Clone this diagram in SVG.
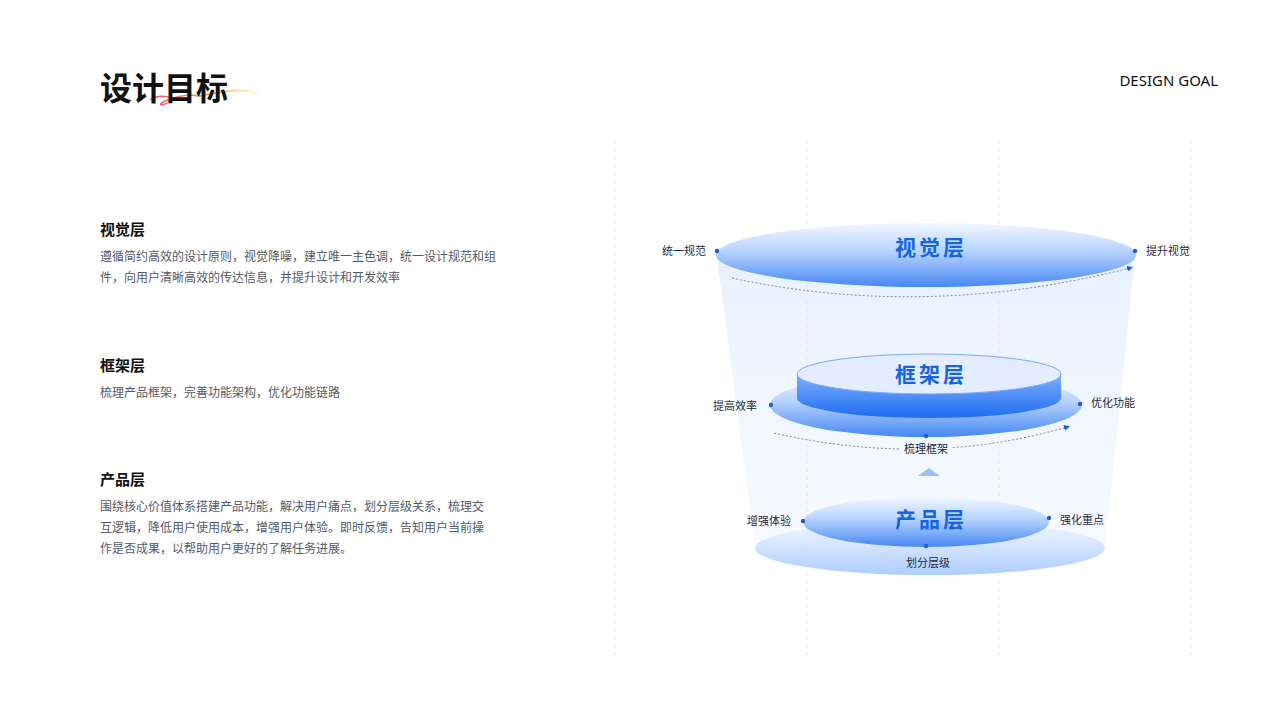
<svg xmlns="http://www.w3.org/2000/svg" width="1280" height="720" viewBox="0 0 1280 720">
<style>
.h{font-family:"Noto Sans CJK SC","Noto Sans",sans-serif;font-weight:700;fill:#111}
.p{font-family:"Noto Sans CJK SC","Noto Sans",sans-serif;font-size:12px;fill:#555a66}
.l{font-family:"Noto Sans CJK SC","Noto Sans",sans-serif;font-size:11px;fill:#1f2a3d}
.t{font-family:"Noto Sans CJK SC","Noto Sans",sans-serif;font-size:21px;font-weight:700;fill:#1565e0;letter-spacing:3px}
.dot{fill:#1a5fd8}
.vl{stroke:#e4e7ec;stroke-dasharray:4 4;stroke-width:1}
.dash{fill:none;stroke:#7d8596;stroke-width:1;stroke-dasharray:2 2}
</style>
<defs>
<linearGradient id="gTop" x1="0" y1="0" x2="0" y2="1"><stop offset="0" stop-color="#f2f7ff"/><stop offset="0.45" stop-color="#b5d2ff"/><stop offset="1" stop-color="#4688f3"/></linearGradient>
<linearGradient id="gFun" x1="0" y1="0" x2="0" y2="1"><stop offset="0" stop-color="#dbe9ff" stop-opacity="0.9"/><stop offset="1" stop-color="#eef5ff" stop-opacity="0.6"/></linearGradient>
<linearGradient id="gCyl" x1="0" y1="0" x2="0" y2="1"><stop offset="0" stop-color="#7fb0ff"/><stop offset="1" stop-color="#1e6cf0"/></linearGradient>
<linearGradient id="gBase" x1="0" y1="0" x2="0" y2="1"><stop offset="0" stop-color="#f3f8ff"/><stop offset="1" stop-color="#9cc2ff"/></linearGradient>
<linearGradient id="gSw" x1="0" y1="0" x2="1" y2="0"><stop offset="0" stop-color="#f0507a"/><stop offset="0.6" stop-color="#f7a23a"/><stop offset="1" stop-color="#fbd34a" stop-opacity="0.3"/></linearGradient>
<marker id="ar" viewBox="0 0 6 6" refX="3" refY="3" markerWidth="6" markerHeight="6" orient="auto"><path d="M0,0L6,3L0,6z" fill="#1a5fd8"/></marker>
</defs>
<rect width="1280" height="720" fill="#fff"/>
<g id="header">
<path d="M150,100 C160,92 180,98 165,104 C150,108 175,92 200,96 C230,90 245,88 258,94" fill="none" stroke="url(#gSw)" stroke-width="1.5"/>
<text x="100" y="100" class="h" font-size="32">设计目标</text>
<text x="1218" y="86" text-anchor="end" font-family="Noto Sans,sans-serif" font-size="15" fill="#111">DESIGN GOAL</text>
</g>
<g id="text-left">
<text x="100" y="235" class="h" font-size="15">视觉层</text>
<text x="100" y="261" class="p">遵循简约高效的设计原则，视觉降噪，建立唯一主色调，统一设计规范和组</text>
<text x="100" y="282" class="p">件，向用户清晰高效的传达信息，并提升设计和开发效率</text>
<text x="100" y="371" class="h" font-size="15">框架层</text>
<text x="100" y="397" class="p">梳理产品框架，完善功能架构，优化功能链路</text>
<text x="100" y="485" class="h" font-size="15">产品层</text>
<text x="100" y="511" class="p">围绕核心价值体系搭建产品功能，解决用户痛点，划分层级关系，梳理交</text>
<text x="100" y="532" class="p">互逻辑，降低用户使用成本，增强用户体验。即时反馈，告知用户当前操</text>
<text x="100" y="553" class="p">作是否成果，以帮助用户更好的了解任务进展。</text>
</g>
<g id="grid">
<line x1="615" y1="140" x2="615" y2="655" class="vl"/>
<line x1="807" y1="140" x2="807" y2="655" class="vl"/>
<line x1="999" y1="140" x2="999" y2="655" class="vl"/>
<line x1="1191" y1="140" x2="1191" y2="655" class="vl"/>
</g>
<g id="funnel">
<path d="M717,258 L1135,258 L1105,548 A175,28 0 0 1 755,548 Z" fill="url(#gFun)" opacity="0.7"/>
</g>
<g id="product-layer">
<ellipse cx="930" cy="548" rx="175" ry="27" fill="url(#gBase)" opacity="0.8"/>
<ellipse cx="926" cy="522" rx="123" ry="25" fill="url(#gTop)"/>
<text x="931" y="527" text-anchor="middle" class="t">产品层</text>
</g>
<g id="frame-layer">
<ellipse cx="926" cy="405" rx="156" ry="32" fill="url(#gTop)"/>
<path d="M797,374 L797,398 A132,20 0 0 0 1061,398 L1061,374 Z" fill="url(#gCyl)"/>
<ellipse cx="929" cy="374" rx="132" ry="20" fill="#e3edff" stroke="#7aa9f5" stroke-width="1"/>
<text x="931" y="382" text-anchor="middle" class="t">框架层</text>
</g>
<g id="visual-layer">
<ellipse cx="926" cy="255" rx="210" ry="32" fill="url(#gTop)"/>
<text x="931" y="255" text-anchor="middle" class="t">视觉层</text>
</g>
<g id="connectors">
<path d="M732,278 Q926,320 1130,268" class="dash" marker-end="url(#ar)"/>
<path d="M774,433 Q926,468 1067,427" class="dash" marker-end="url(#ar)"/>
<path d="M918,476 L929,468 L940,476 Z" fill="#9cc0fb"/>
</g>
<g id="labels">
<circle cx="717" cy="251" r="2.2" class="dot"/><circle cx="1135" cy="251" r="2.2" class="dot"/>
<text x="706" y="255" text-anchor="end" class="l">统一规范</text>
<text x="1146" y="255" class="l">提升视觉</text>
<circle cx="771" cy="405" r="2.2" class="dot"/><circle cx="1080" cy="404" r="2.2" class="dot"/><circle cx="926" cy="436" r="2.2" class="dot"/>
<text x="757" y="410" text-anchor="end" class="l">提高效率</text>
<text x="1091" y="407" class="l">优化功能</text>
<rect x="900" y="442" width="52" height="14" fill="#f4f8ff"/>
<text x="926" y="453" text-anchor="middle" class="l">梳理框架</text>
<circle cx="803" cy="521" r="2.2" class="dot"/><circle cx="1049" cy="518" r="2.2" class="dot"/><circle cx="926" cy="546" r="2.2" class="dot"/>
<text x="791" y="525" text-anchor="end" class="l">增强体验</text>
<text x="1060" y="524" class="l">强化重点</text>
<text x="928" y="567" text-anchor="middle" class="l">划分层级</text>
</g>
</svg>
